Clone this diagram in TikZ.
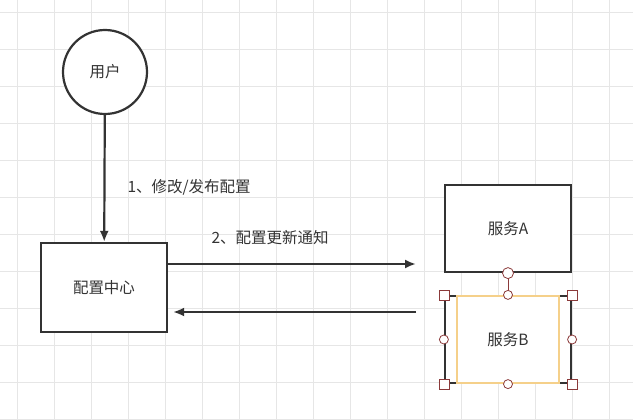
\documentclass[tikz,border=0pt]{standalone}
\usepackage{fontspec}
\setmainfont{Noto Sans CJK SC}
\usetikzlibrary{positioning,arrows.meta}
\definecolor{gridgray}{HTML}{E6E6E6}
\definecolor{handle}{HTML}{8B3A3A}
\definecolor{selorange}{HTML}{F5D08A}
\tikzset{
    box/.style={draw=black!80,line width=2.2pt,fill=white,minimum width=126pt,minimum height=89pt,font=\fontsize{15.5}{18}\selectfont,text=black!80},
    user/.style={circle,draw=black!80,line width=2.2pt,fill=white,minimum size=84pt,font=\fontsize{15.5}{18}\selectfont,text=black!80},
    flow/.style={draw=black!80,line width=2.2pt,-{Latex[length=11pt,width=9pt]}},
    note/.style={font=\fontsize{15.5}{18}\selectfont,text=black!80},
    sqhandle/.style={draw=handle,fill=white,line width=0.8pt,minimum size=10pt,inner sep=0pt},
    cihandle/.style={circle,draw=handle,fill=white,line width=0.8pt,minimum size=9pt,inner sep=0pt}
}
\begin{document}
\begin{tikzpicture}[x=1pt,y=-1pt]
\useasboundingbox (0,0) rectangle (633,420);
\fill[white] (0,0) rectangle (633,420);
% grid
\foreach \gx in {17,54,...,630} \draw[gridgray,line width=0.6pt] (\gx,0) -- (\gx,420);
\foreach \gy in {12,49,...,420} \draw[gridgray,line width=0.6pt] (0,\gy) -- (633,\gy);

% nodes
\node[user] (yonghu) at (105,72) {用户};
\node[box] (center) at (104,287.5) {配置中心};
\node[box,minimum height=87pt] (svcA) at (508,228.5) {服务A};
\node[box,minimum height=87pt] (svcB) at (508,339.5) {服务B};

% connectors
\draw[flow] (yonghu) -- (center);
\coordinate (outA) at (416,264);
\coordinate (inB) at (416,312);
\draw[flow] (center.east |- outA) -- (outA);
\draw[flow] (inB) -- ([xshift=5pt]center.east |- inB);
\node[note,anchor=west] at (124,187) {1、修改/发布配置};
\node[note,anchor=west] at (208,238) {2、配置更新通知};

% selection of 服务B
\draw[selorange,line width=1.4pt] (457,296) rectangle (559,383);
\draw[handle,line width=1pt] (svcA.south) -- (svcB.north);
\node[cihandle,minimum size=11pt] at (svcA.south) {};
\foreach \pos in {north,south,east,west} \node[cihandle] at (svcB.\pos) {};
\foreach \pos in {north east,north west,south east,south west} \node[sqhandle] at (svcB.\pos) {};
\end{tikzpicture}
\end{document}
